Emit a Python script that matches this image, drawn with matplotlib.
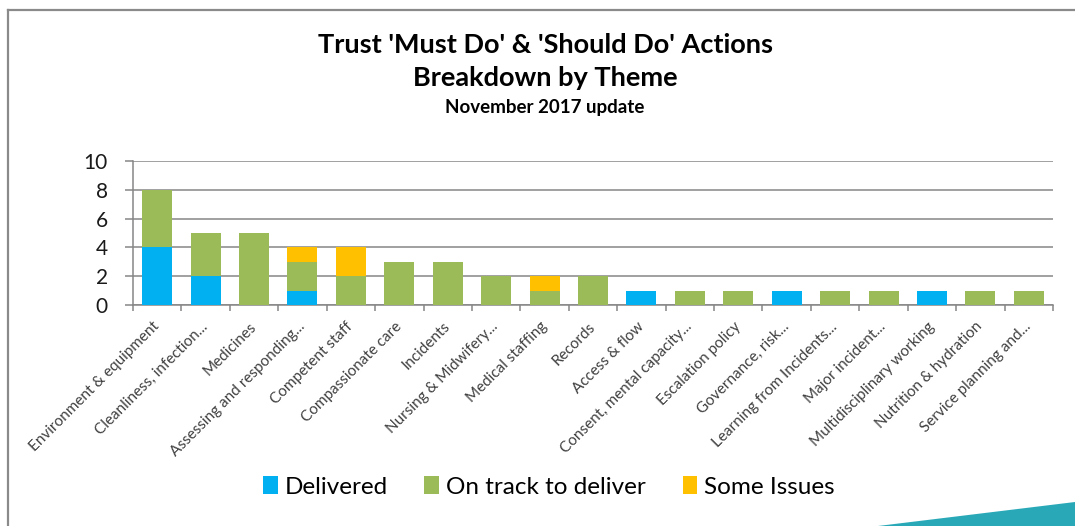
import numpy as np
import matplotlib.pyplot as plt
from matplotlib.patches import Patch, Polygon
from matplotlib.lines import Line2D

# Themes and number of actions per status
themes = [
    "Environment & equipment", "Cleanliness, infection...", "Medicines",
    "Assessing and responding...", "Competent staff", "Compassionate care",
    "Incidents", "Nursing & Midwifery...", "Medical staffing", "Records",
    "Access & flow", "Consent, mental capacity...", "Escalation policy",
    "Governance, risk...", "Learning from Incidents...", "Major incident...",
    "Multidisciplinary working", "Nutrition & hydration", "Service planning and...",
]
delivered = [4, 2, 0, 1, 0, 0, 0, 0, 0, 0, 1, 0, 0, 1, 0, 0, 1, 0, 0]
on_track = [4, 3, 5, 2, 2, 3, 3, 2, 1, 2, 0, 1, 1, 0, 1, 1, 0, 1, 1]
some_issues = [0, 0, 0, 1, 2, 0, 0, 0, 1, 0, 0, 0, 0, 0, 0, 0, 0, 0, 0]
series_names = ["Delivered", "On track to deliver", "Some Issues"]
y_ticks = [0, 2, 4, 6, 8, 10]

BLUE = "#00B0F0"
GREEN = "#9BBB59"
AMBER = "#FFC000"
GRID = "#868686"

plt.rcParams['font.family'] = ['Lato', 'DejaVu Sans']

fig = plt.figure(figsize=(10.75, 5.26), dpi=100)
W, H = 1075, 526
ax = fig.add_axes([133 / W, 1 - 305 / H, (1053 - 133) / W, (305 - 161) / H])

x = np.arange(len(themes))
d = np.array(delivered)
o = np.array(on_track)
s = np.array(some_issues)
bw = 0.62
ax.bar(x, d, bw, color=BLUE, zorder=3)
ax.bar(x, o, bw, bottom=d, color=GREEN, zorder=3)
ax.bar(x, s, bw, bottom=d + o, color=AMBER, zorder=3)

ax.set_xlim(-0.5, len(themes) - 0.5)
ax.set_ylim(0, 10)
ax.set_yticks(y_ticks)
ax.set_yticklabels([str(v) for v in y_ticks], fontsize=15, color="#1a1a1a")
ax.tick_params(axis='y', length=6, width=1.1, color=GRID, pad=12)
ax.yaxis.grid(True, color=GRID, linewidth=1.1, zorder=0)

ax.set_xticks(x)
ax.set_xticklabels(themes, rotation=45, ha='right', va='center',
                   rotation_mode='anchor', fontsize=11, color="#404040")
ax.tick_params(axis='x', length=0, pad=14)
ax.set_xticks(np.arange(len(themes) + 1) - 0.5, minor=True)
ax.tick_params(axis='x', which='minor', length=4, width=1.1, color=GRID)

for side in ['top', 'right']:
    ax.spines[side].set_visible(False)
for side in ['left', 'bottom']:
    ax.spines[side].set_color(GRID)
    ax.spines[side].set_linewidth(1.1)

# Titles
fig.text(545 / W, 1 - 45 / H, "Trust 'Must Do' & 'Should Do' Actions",
         ha='center', va='center', fontsize=19.5, fontweight='bold')
fig.text(545 / W, 1 - 78 / H, "Breakdown by Theme",
         ha='center', va='center', fontsize=19.5, fontweight='bold')
fig.text(545 / W, 1 - 108 / H, "November 2017 update",
         ha='center', va='center', fontsize=13.5, fontweight='bold')

handles = [Patch(facecolor=c, edgecolor='none') for c in (BLUE, GREEN, AMBER)]
fig.legend(handles, series_names, loc='center', bbox_to_anchor=(549 / W, 1 - 487 / H),
           ncol=3, frameon=False, fontsize=17.5, handlelength=0.6, handleheight=0.7,
           handletextpad=0.3, columnspacing=1.5)

# frame around the chart and the teal corner
fig.add_artist(Line2D([8 / W, 8 / W], [0, 1 - 10 / H], color="#8a8a8a", lw=1.6))
fig.add_artist(Line2D([8 / W, 1], [1 - 10 / H, 1 - 10 / H], color="#8a8a8a", lw=1.6))
fig.add_artist(Polygon([[878 / W, 0], [1, 1 - 502 / H], [1, 0]], closed=True,
                       transform=fig.transFigure, facecolor="#29A9B8", edgecolor='none'))

fig.savefig("out.png", dpi=100)
